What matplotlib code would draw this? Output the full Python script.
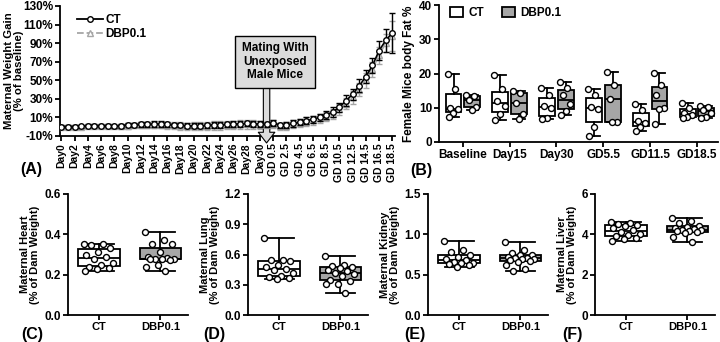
import matplotlib
matplotlib.use("Agg")
import matplotlib.pyplot as plt
import numpy as np
from matplotlib.lines import Line2D
from matplotlib.patches import Patch

plt.rcParams['font.family'] = ['Liberation Sans', 'DejaVu Sans']
plt.rcParams['font.weight'] = 'bold'
plt.rcParams['axes.labelweight'] = 'bold'
plt.rcParams['axes.linewidth'] = 1.3
plt.rcParams['xtick.major.width'] = 1.3
plt.rcParams['ytick.major.width'] = 1.3

# ---------------- data ----------------
# Panel A: maternal weight gain (% of baseline), 51 time points (Day0..Day30, mating, GD0.5..GD18.5)
a_tick_labels = ['Day0', 'Day2', 'Day4', 'Day6', 'Day8', 'Day10', 'Day12', 'Day14',
                 'Day16', 'Day18', 'Day20', 'Day22', 'Day24', 'Day26', 'Day28', 'Day30',
                 'GD 0.5', 'GD 2.5', 'GD 4.5', 'GD 6.5', 'GD 8.5', 'GD 10.5', 'GD 12.5',
                 'GD 14.5', 'GD 16.5', 'GD 18.5']
ct_gain = [0, 0, 0, 0.5, 1, 1, 1, 1, 0.5, 1, 2, 2, 2.5, 2.5, 3, 3, 2.5, 2, 2, 1, 1,
           1, 1.5, 2, 2, 2.5, 3, 3, 3.5, 3, 3,
           2.5,
           4, 1.5, 2, 3.5, 5, 6.5, 8, 10, 12.5, 16, 21, 28, 35, 44, 54, 66, 82, 93, 101]
ct_err = [1.5, 1.5, 1.5, 1.5, 1.5, 1.5, 1.5, 1.5, 1.5, 2, 2.5, 2.5, 3, 3, 3, 3, 3, 2.5, 2.5, 2.5, 2.5,
          2.5, 3, 3, 3, 3, 3, 3, 3, 3, 3,
          3,
          3, 3, 3, 3.5, 3.5, 4, 4, 4, 4.5, 5, 5, 6, 6, 7, 7, 8, 10, 12, 22]
dbp_gain = [0, 0, 0, 0, 0.5, 0.5, 0.5, 0.5, 0.5, 0.5, 1, 1.5, 2, 2, 2, 2, 1.5, 1.5, 1, 0.5, 0.5,
            0.5, 1, 1.5, 1.5, 2, 2, 2.5, 2.5, 2.5, 2,
            2,
            3, 0.5, 1, 3, 4, 5.5, 7, 9, 11, 14, 19, 25, 32, 40, 50, 62, 77, 90, 98]
dbp_err = [1.5, 1.5, 1.5, 1.5, 1.5, 1.5, 1.5, 2, 2, 2.5, 3, 3, 3.5, 3.5, 3.5, 3.5, 3.5, 4, 4, 4, 4.5,
           4.5, 4.5, 4.5, 4.5, 4.5, 4.5, 4.5, 4.5, 4.5, 4.5,
           4,
           4, 4, 4, 4, 4.5, 4.5, 5, 5, 5, 5.5, 6, 6, 7, 7, 8, 8, 9, 10, 16]

# Panel B: body fat %
b_groups = ['Baseline', 'Day15', 'Day30', 'GD5.5', 'GD11.5', 'GD18.5']
b_ct = [[20, 15.4, 10, 9.5, 8.5, 7.2],
        [19.5, 15.6, 12, 10.5, 8.2, 6.5],
        [15.7, 13.8, 10.5, 9.8, 7, 6.6],
        [15.5, 13.7, 10.2, 9.5, 4.5, 1.8],
        [11.2, 9.2, 6, 5.6, 4.5, 3.2],
        [11.5, 9.8, 8.6, 8, 7.2, 7]]
b_dbp = [[13.6, 13.5, 12.3, 10.1, 9.3],
         [14.8, 14.4, 11.3, 8.3, 6.8],
         [17.4, 15.9, 13.6, 11, 9.1, 7.9],
         [20.5, 16.7, 12.5, 5.9, 5.8],
         [20.2, 16.7, 13.7, 10, 9.6, 5.2],
         [10.5, 10.2, 9.4, 8.5, 7.3, 6.9]]

# Panels C-F: organ weights (% of dam weight)
organ_groups = ['CT', 'DBP0.1']
heart_ct = [0.35, 0.35, 0.345, 0.33, 0.31, 0.30, 0.29, 0.28, 0.26, 0.25, 0.24, 0.235, 0.23, 0.22]
heart_dbp = [0.41, 0.37, 0.35, 0.35, 0.31, 0.29, 0.285, 0.28, 0.28, 0.28, 0.28, 0.275, 0.25, 0.24, 0.22]
lung_ct = [0.76, 0.55, 0.55, 0.535, 0.5, 0.48, 0.46, 0.45, 0.42, 0.39, 0.38, 0.37, 0.36]
lung_dbp = [0.59, 0.5, 0.49, 0.48, 0.47, 0.45, 0.44, 0.42, 0.41, 0.39, 0.35, 0.34, 0.31, 0.31, 0.22]
kidney_ct = [0.92, 0.8, 0.78, 0.75, 0.72, 0.7, 0.68, 0.66, 0.65, 0.64, 0.63, 0.62, 0.6]
kidney_dbp = [0.91, 0.8, 0.77, 0.75, 0.74, 0.72, 0.71, 0.71, 0.7, 0.7, 0.68, 0.67, 0.66, 0.62, 0.57, 0.55]
liver_ct = [4.6, 4.55, 4.5, 4.45, 4.42, 4.3, 4.2, 4.1, 4.0, 3.95, 3.9, 3.82, 3.75, 3.68]
liver_dbp = [4.82, 4.65, 4.55, 4.42, 4.38, 4.3, 4.25, 4.2, 4.2, 4.15, 4.15, 4.1, 4.07, 3.85, 3.6]

GRAY = '#a6a6a6'

W, H = 720, 342
fig = plt.figure(figsize=(7.2, 3.42), dpi=100)


def add_ax(x0, y0, x1, y1):
    return fig.add_axes([x0 / W, 1 - y1 / H, (x1 - x0) / W, (y1 - y0) / H])


def style(ax, size=8.5):
    ax.spines['top'].set_visible(False)
    ax.spines['right'].set_visible(False)
    ax.tick_params(direction='out', length=3.5, labelsize=size, pad=1.5)
    for t in ax.get_xticklabels() + ax.get_yticklabels():
        t.set_fontweight('bold')


def offsets(n, width):
    k = np.arange(n)
    return ((k * 0.618) % 1 - 0.5) * width


def draw_boxes(ax, datasets, positions, facecolors, width, msize):
    bp = ax.boxplot(datasets, positions=positions, widths=width, whis=(0, 100),
                    patch_artist=True, showfliers=False, manage_ticks=False,
                    medianprops=dict(color='black', linewidth=1.3),
                    boxprops=dict(linewidth=1.3),
                    whiskerprops=dict(linewidth=1.3),
                    capprops=dict(linewidth=1.3))
    for patch, fc in zip(bp['boxes'], facecolors):
        patch.set_facecolor(fc)
        patch.set_edgecolor('black')
    for caps in bp['caps']:
        xd = caps.get_xdata()
        c = (xd[0] + xd[1]) / 2
        caps.set_xdata([c - width * 0.35, c + width * 0.35])
    for d, p in zip(datasets, positions):
        ax.plot(p + offsets(len(d), width * 0.75), d, 'o', ms=msize, mfc='white',
                mec='black', mew=1.0, zorder=5, clip_on=False)


# ---------------- Panel A ----------------
axA = add_ax(60, 6, 395, 136)
x = np.arange(len(ct_gain))
axA.errorbar(x, dbp_gain, yerr=dbp_err, color=GRAY, ls='--', lw=1.1, marker='^',
             ms=4, mfc='white', mec=GRAY, ecolor=GRAY, elinewidth=1, capsize=2, zorder=3)
axA.errorbar(x, ct_gain, yerr=ct_err, color='black', ls='-', lw=1.2, marker='o',
             ms=4, mfc='white', mec='black', ecolor='black', elinewidth=1, capsize=2, zorder=4)
axA.set_xlim(-0.2, 50.4)
axA.set_ylim(-10, 130)
axA.set_yticks(np.arange(-10, 131, 20))
axA.set_yticklabels([f'{v}%' for v in range(-10, 131, 20)])
axA.set_xticks(np.arange(0, 51, 2))
axA.set_xticklabels(a_tick_labels, rotation=90)
style(axA)
axA.tick_params(axis='x', labelsize=7.5)
axA.set_ylabel('Maternal Weight Gain\n(% of baseline)', fontsize=8.2, linespacing=0.95)
axA.yaxis.set_label_coords(-0.108, 0.5)
axA.legend(handles=[Line2D([], [], color='black', ls='-', lw=1.3, marker='o', ms=4, mfc='white', mec='black'),
                    Line2D([], [], color=GRAY, ls='--', lw=1.3, marker='^', ms=4, mfc='white', mec=GRAY)],
           labels=['CT', 'DBP0.1'], loc='upper left', bbox_to_anchor=(0.02, 1.02), frameon=False,
           prop={'size': 8.5, 'weight': 'bold'}, handlelength=2.2, handletextpad=0.2, labelspacing=0.15)
axA.text(32.3, 70, 'Mating With\nUnexposed\nMale Mice', ha='center', va='center',
         fontsize=8.5, fontweight='bold', linespacing=1.15, zorder=6,
         bbox=dict(boxstyle='square,pad=0.55', fc='#dcdcdc', ec='black', lw=1))
axA.annotate('', xy=(31, -17.5), xytext=(31, 44), annotation_clip=False,
             arrowprops=dict(arrowstyle='simple,head_length=0.55,head_width=0.85,tail_width=0.33',
                             fc='#dcdcdc', ec='black', lw=0.8, mutation_scale=14,
                             shrinkA=0, shrinkB=0))

# ---------------- Panel B ----------------
axB = add_ax(439, 5, 718, 142)
pos = np.arange(len(b_groups))
bw = 0.34
draw_boxes(axB, b_ct, pos - 0.2, ['white'] * len(pos), bw, 4.3)
draw_boxes(axB, b_dbp, pos + 0.2, [GRAY] * len(pos), bw, 4.3)
axB.set_xlim(-0.51, 5.45)
axB.set_ylim(0, 40)
axB.set_yticks([0, 10, 20, 30, 40])
axB.set_xticks(pos)
axB.set_xticklabels(b_groups)
style(axB)
axB.set_ylabel('Female Mice body Fat %', fontsize=8.5, labelpad=3)
axB.legend(handles=[Patch(fc='white', ec='black', lw=1.3), Patch(fc=GRAY, ec='black', lw=1.3)],
           labels=['CT', 'DBP0.1'], loc='upper left', bbox_to_anchor=(0.0, 1.06), ncol=2,
           frameon=False, prop={'size': 8.5, 'weight': 'bold'}, handlelength=1.1,
           handleheight=0.9, handletextpad=0.5, columnspacing=1.5)

# ---------------- Panels C-F ----------------
organs = [
    (heart_ct, heart_dbp, 'Maternal Heart\n(% of Dam Weight)', 0.6, [0, 0.2, 0.4, 0.6], '{:.1f}', 68),
    (lung_ct, lung_dbp, 'Maternal Lung\n(% of Dam Weight)', 1.2, [0, 0.3, 0.6, 0.9, 1.2], '{:.1f}', 248),
    (kidney_ct, kidney_dbp, 'Maternal Kidney\n(% of Dam Weight)', 1.5, [0, 0.5, 1.0, 1.5], '{:.1f}', 428),
    (liver_ct, liver_dbp, 'Maternal Liver\n(% of Dam Weight)', 6, [0, 2, 4, 6], '{:.0f}', 595),
]
for ct, dbp, lab, ymax, ticks, fmt, left in organs:
    ax = add_ax(left, 194, left + 120, 315)
    draw_boxes(ax, [ct, dbp], [0, 1], ['white', GRAY], 0.68, 4.3)
    ax.set_xlim(-0.51, 1.45)
    ax.set_ylim(0, ymax)
    ax.set_yticks(ticks)
    ax.set_yticklabels([fmt.format(t) for t in ticks])
    ax.set_xticks([0, 1])
    ax.set_xticklabels(organ_groups)
    style(ax)
    ax.tick_params(axis='x', labelsize=8)
    ax.set_ylabel(lab, fontsize=8, labelpad=3, linespacing=1.0)

# ---------------- panel letters ----------------
for letter, (px, py) in {'(A)': (31, 169), '(B)': (421, 171), '(C)': (32, 334),
                         '(D)': (214, 334), '(E)': (415, 334), '(F)': (572, 334)}.items():
    fig.text(px / W, 1 - py / H, letter, ha='center', va='center', fontsize=11.5, fontweight='bold')

fig.savefig('out.png', dpi=100)
